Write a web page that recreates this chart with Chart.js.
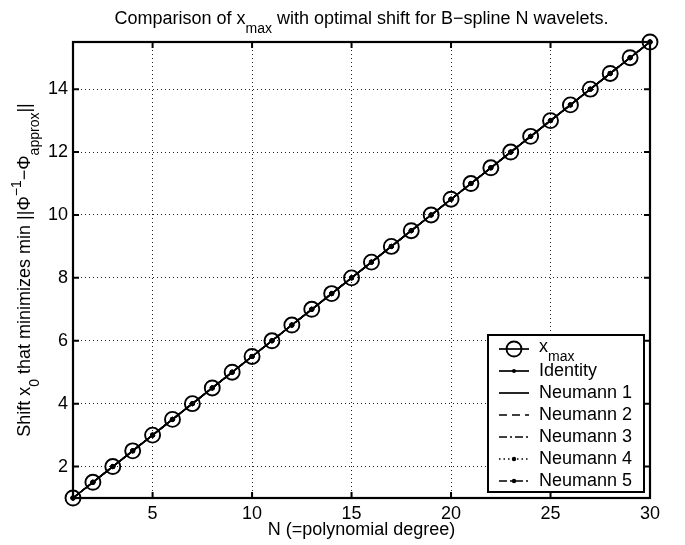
<!DOCTYPE html>
<html>
<head>
<meta charset="utf-8">
<script src="https://cdn.jsdelivr.net/npm/chart.js@4.4.0/dist/chart.umd.min.js"></script>
<style>
  html, body { margin: 0; padding: 0; background: #fff; }
  canvas { display: block; }
</style>
</head>
<body>
<canvas id="c" width="685" height="545"></canvas>
<script>
// ---- data ----
const N = [1,2,3,4,5,6,7,8,9,10,11,12,13,14,15,16,17,18,19,20,21,22,23,24,25,26,27,28,29,30];
const xMax     = [1,1.5,2,2.5,3,3.5,4,4.5,5,5.5,6,6.5,7,7.5,8,8.5,9,9.5,10,10.5,11,11.5,12,12.5,13,13.5,14,14.5,15,15.5];
const identity = [1,1.5,2,2.5,3,3.5,4,4.5,5,5.5,6,6.5,7,7.5,8,8.5,9,9.5,10,10.5,11,11.5,12,12.5,13,13.5,14,14.5,15,15.5];
const neumann1 = [1,1.5,2,2.5,3,3.5,4,4.5,5,5.5,6,6.5,7,7.5,8,8.5,9,9.5,10,10.5,11,11.5,12,12.5,13,13.5,14,14.5,15,15.5];
const neumann2 = [1,1.5,2,2.5,3,3.5,4,4.5,5,5.5,6,6.5,7,7.5,8,8.5,9,9.5,10,10.5,11,11.5,12,12.5,13,13.5,14,14.5,15,15.5];
const neumann3 = [1,1.5,2,2.5,3,3.5,4,4.5,5,5.5,6,6.5,7,7.5,8,8.5,9,9.5,10,10.5,11,11.5,12,12.5,13,13.5,14,14.5,15,15.5];
const neumann4 = [1,1.5,2,2.5,3,3.5,4,4.5,5,5.5,6,6.5,7,7.5,8,8.5,9,9.5,10,10.5,11,11.5,12,12.5,13,13.5,14,14.5,15,15.5];
const neumann5 = [1,1.5,2,2.5,3,3.5,4,4.5,5,5.5,6,6.5,7,7.5,8,8.5,9,9.5,10,10.5,11,11.5,12,12.5,13,13.5,14,14.5,15,15.5];
const xTicks = [5,10,15,20,25,30];
const yTicks = [2,4,6,8,10,12,14];
const seriesNames = ['x_max','Identity','Neumann 1','Neumann 2','Neumann 3','Neumann 4','Neumann 5'];

const FONT = '"Liberation Sans", Arial, Helvetica, sans-serif';
const FS = 18;

function pts(vals) { return N.map((n, i) => ({ x: n, y: vals[i] })); }

const styles = [
  { dash: [],        marker: 'circle', r: 7.5 },
  { dash: [],        marker: 'dot',    r: 2 },
  { dash: [],        marker: 'none',   r: 0 },
  { dash: [8, 5],    marker: 'none',   r: 0 },
  { dash: [8, 3, 2, 3], marker: 'none', r: 0 },
  { dash: [1.5, 3],  marker: 'dot',    r: 2.2 },
  { dash: [8, 3, 2, 3], marker: 'dot', r: 2.2 }
];
const seriesData = [xMax, identity, neumann1, neumann2, neumann3, neumann4, neumann5];

const datasets = seriesData.map((vals, i) => {
  const s = styles[i];
  return {
    label: seriesNames[i],
    data: pts(vals),
    borderColor: '#000',
    borderWidth: 1.5,
    borderDash: s.dash,
    pointRadius: s.marker === 'none' ? 0 : s.r,
    pointStyle: 'circle',
    pointBorderWidth: s.marker === 'circle' ? 1.9 : 1,
    pointBorderColor: '#000',
    pointBackgroundColor: s.marker === 'circle' ? 'rgba(0,0,0,0)' : '#000',
    showLine: true,
    fill: false,
    tension: 0,
    clip: false
  };
});

function richWidth(ctx, segs, fs) {
  let w = 0;
  segs.forEach(s => {
    ctx.font = (s.k === 'n' ? fs : Math.round(fs * 0.78)) + 'px ' + FONT;
    w += ctx.measureText(s.t).width;
  });
  return w;
}
function drawRich(ctx, segs, x, y, fs) {
  let cx = x;
  segs.forEach(s => {
    const f = s.k === 'n' ? fs : Math.round(fs * 0.78);
    ctx.font = f + 'px ' + FONT;
    let dy = 0;
    if (s.k === 'sub') dy = fs * 0.55;
    if (s.k === 'sup') dy = -fs * 0.45;
    ctx.fillText(s.t, cx, y + dy);
    cx += ctx.measureText(s.t).width;
  });
}

const titleSegs = [
  { t: 'Comparison of x', k: 'n' }, { t: 'max', k: 'sub' },
  { t: ' with optimal shift for B\u2212spline N wavelets.', k: 'n' }
];
const yLabelSegs = [
  { t: 'Shift x', k: 'n' }, { t: '0', k: 'sub' },
  { t: ' that minimizes min ||\u03A6', k: 'n' }, { t: '\u22121', k: 'sup' },
  { t: '\u2212\u03A6', k: 'n' }, { t: 'approx', k: 'sub' }, { t: '||', k: 'n' }
];
const xLabel = 'N (=polynomial degree)';

const decor = {
  id: 'decor',
  beforeDatasetsDraw(chart) {
    const ctx = chart.ctx, a = chart.chartArea;
    const xs = chart.scales.x, ys = chart.scales.y;
    ctx.save();
    ctx.strokeStyle = '#000';
    ctx.lineWidth = 2;
    ctx.beginPath();
    xTicks.forEach(v => {
      const px = xs.getPixelForValue(v);
      ctx.moveTo(px, a.bottom); ctx.lineTo(px, a.bottom - 6);
      ctx.moveTo(px, a.top); ctx.lineTo(px, a.top + 6);
    });
    yTicks.forEach(v => {
      const py = ys.getPixelForValue(v);
      ctx.moveTo(a.left, py); ctx.lineTo(a.left + 6, py);
      ctx.moveTo(a.right, py); ctx.lineTo(a.right - 6, py);
    });
    ctx.stroke();
    ctx.lineWidth = 2.2;
    ctx.strokeRect(a.left, a.top, a.right - a.left, a.bottom - a.top);
    ctx.restore();
  },
  afterDraw(chart) {
    const ctx = chart.ctx, a = chart.chartArea;
    ctx.save();
    ctx.fillStyle = '#000';
    ctx.textBaseline = 'middle';
    const cx = (a.left + a.right) / 2;
    const tw = richWidth(ctx, titleSegs, FS);
    drawRich(ctx, titleSegs, cx - tw / 2, 19, FS);
    ctx.font = FS + 'px ' + FONT;
    ctx.textAlign = 'center';
    ctx.fillText(xLabel, cx, 530);
    ctx.textAlign = 'left';
    ctx.save();
    ctx.translate(25, (a.top + a.bottom) / 2);
    ctx.rotate(-Math.PI / 2);
    const yw = richWidth(ctx, yLabelSegs, FS);
    drawRich(ctx, yLabelSegs, -yw / 2, 0, FS);
    ctx.restore();

    // legend
    const L = 488, T = 335, R = 644, B = 492;
    ctx.fillStyle = '#fff';
    ctx.fillRect(L, T, R - L, B - T);
    ctx.strokeStyle = '#000';
    ctx.lineWidth = 2;
    ctx.strokeRect(L, T, R - L, B - T);
    const rowY = [349, 371, 393, 415, 437, 459, 481];
    const lx0 = 499, lx1 = 529, tx = 539;
    seriesNames.forEach((name, i) => {
      const s = styles[i], y = rowY[i];
      ctx.strokeStyle = '#000';
      ctx.lineWidth = 1.7;
      ctx.setLineDash(s.dash);
      ctx.beginPath(); ctx.moveTo(lx0, y); ctx.lineTo(lx1, y); ctx.stroke();
      ctx.setLineDash([]);
      const mx = (lx0 + lx1) / 2;
      if (s.marker === 'circle') {
        ctx.lineWidth = 1.9;
        ctx.beginPath(); ctx.arc(mx, y, s.r, 0, Math.PI * 2); ctx.stroke();
      } else if (s.marker === 'dot') {
        ctx.fillStyle = '#000';
        ctx.beginPath(); ctx.arc(mx, y, s.r, 0, Math.PI * 2); ctx.fill();
      }
      ctx.fillStyle = '#000';
      if (i === 0) {
        drawRich(ctx, [{ t: 'x', k: 'n' }, { t: 'max', k: 'sub' }], tx, y - 2, FS);
      } else {
        ctx.font = FS + 'px ' + FONT;
        ctx.fillText(name, tx, y);
      }
    });
    ctx.restore();
  }
};

new Chart(document.getElementById('c'), {
  type: 'line',
  data: { datasets },
  options: {
    responsive: false,
    animation: false,
    devicePixelRatio: 1,
    layout: { padding: { top: 42, right: 35, left: 0, bottom: 0 } },
    plugins: { legend: { display: false }, title: { display: false }, tooltip: { enabled: false } },
    scales: {
      x: {
        type: 'linear', min: 1, max: 30,
        afterBuildTicks: s => { s.ticks = xTicks.map(v => ({ value: v })); },
        afterFit: s => { s.height = 47; },
        grid: { color: '#222', lineWidth: 1, drawTicks: false },
        border: { display: false, dash: [1, 3] },
        ticks: { color: '#000', font: { family: FONT, size: FS }, padding: 5, maxRotation: 0, autoSkip: false }
      },
      y: {
        type: 'linear', min: 1, max: 15.5,
        afterBuildTicks: s => { s.ticks = yTicks.map(v => ({ value: v })); },
        afterFit: s => { s.width = 73; },
        grid: { color: '#222', lineWidth: 1, drawTicks: false },
        border: { display: false, dash: [1, 3] },
        ticks: { color: '#000', font: { family: FONT, size: FS }, padding: 5, autoSkip: false }
      }
    }
  },
  plugins: [decor]
});
</script>
</body>
</html>
